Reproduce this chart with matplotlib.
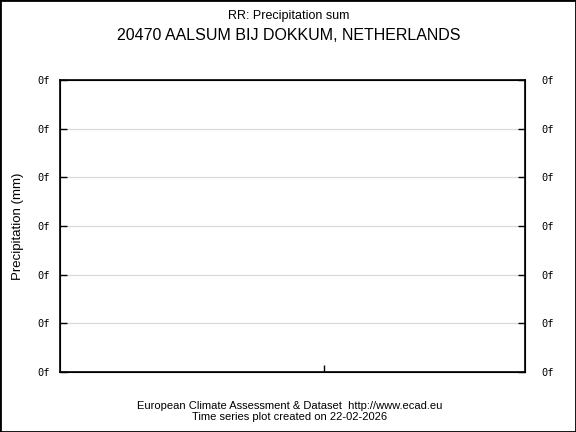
"""
Empty precipitation time series plot (ECA&D style)
"""
import matplotlib
matplotlib.use('Agg')
import matplotlib.pyplot as plt
from matplotlib.patches import Rectangle

# chart texts and ticks
title_top = 'RR: Precipitation sum'
station = '20470 AALSUM BIJ DOKKUM, NETHERLANDS'
ylabel = 'Precipitation (mm)'
footer = ['European Climate Assessment & Dataset  http://www.ecad.eu',
          'Time series plot created on 22-02-2026']
y_ticks = [0, 1, 2, 3, 4, 5, 6]
y_labels = ['0f', '0f', '0f', '0f', '0f', '0f', '0f']
x_ticks = [0.568]

plt.rcParams['font.family'] = ['Liberation Sans', 'DejaVu Sans']

fig = plt.figure(figsize=(5.76, 4.32), dpi=100)
ax = fig.add_axes([60 / 576, 60 / 432, 465 / 576, 292 / 432])

ax.set_ylim(y_ticks[0], y_ticks[-1])
ax.set_xlim(0, 1)
ax.set_yticks(y_ticks)
ax.set_yticklabels(y_labels, family='DejaVu Sans Mono', fontsize=7.5)
ax.set_xticks(x_ticks)
ax.set_xticklabels([])

# light grid only between the frame lines
for y in y_ticks[1:-1]:
    ax.axhline(y, color='#d8d8d8', lw=0.8, zorder=0)

ax.tick_params(axis='y', direction='in', length=5, width=1, left=True,
               right=False, pad=7)
ax.tick_params(axis='x', direction='in', length=5, width=1, top=False)
for s in ax.spines.values():
    s.set_linewidth(1.2)

# right side labels
ax2 = ax.twinx()
ax2.set_ylim(ax.get_ylim())
ax2.set_yticks(y_ticks)
ax2.set_yticklabels(y_labels, family='DejaVu Sans Mono', fontsize=7.5)
ax2.tick_params(axis='y', direction='in', length=5, width=1, pad=12)

ax.set_ylabel(ylabel, fontsize=9.5)
ax.yaxis.set_label_coords(-36 / 465, 0.5)

fig.text(0.502, 1 - 16 / 432, title_top, ha='center', va='center', fontsize=9)
fig.text(0.502, 1 - 36 / 432, station, ha='center', va='center', fontsize=11.5)
fig.text(0.503, 1 - 406 / 432, footer[0], ha='center', va='center', fontsize=8)
fig.text(0.503, 1 - 417 / 432, footer[1], ha='center', va='center', fontsize=8)

# black border around the whole picture
fig.patches.append(Rectangle((0, 0), 1, 1, transform=fig.transFigure,
                             fill=False, edgecolor='black', lw=2))

plt.savefig('out.png', dpi=100)
